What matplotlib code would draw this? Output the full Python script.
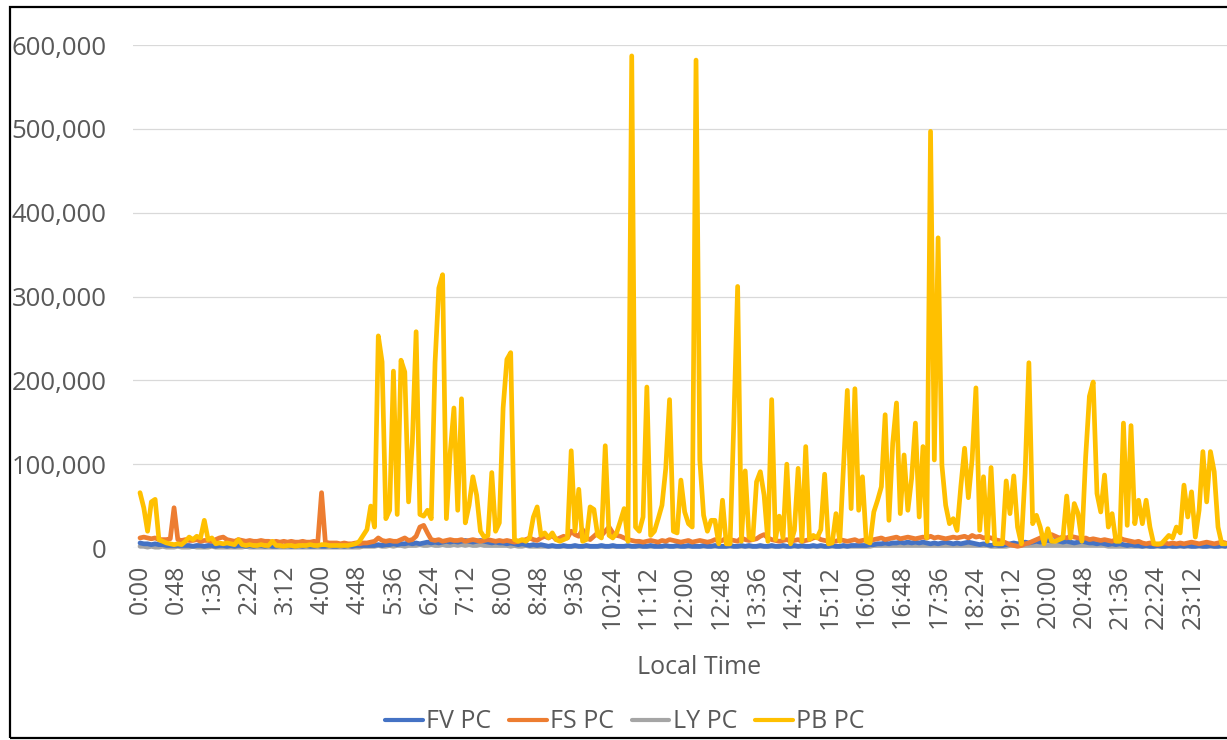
import numpy as np
import matplotlib
matplotlib.use("Agg")
import matplotlib.pyplot as plt
from matplotlib.patches import Rectangle
from matplotlib.ticker import FuncFormatter

# ---------------- data (values in thousands, 5-minute steps) ----------------
series_names = ["FV PC", "FS PC", "LY PC", "PB PC"]
series_colors = ["#4472C4", "#ED7D31", "#A5A5A5", "#FFC000"]

tick_labels = ["0:00", "0:48", "1:36", "2:24", "3:12", "4:00", "4:48", "5:36",
               "6:24", "7:12", "8:00", "8:48", "9:36", "10:24", "11:12", "12:00",
               "12:48", "13:36", "14:24", "15:12", "16:00", "16:48", "17:36",
               "18:24", "19:12", "20:00", "20:48", "21:36", "22:24", "23:12"]
tick_minutes = [0, 48, 96, 144, 192, 240, 288, 336, 384, 432, 480, 528, 576, 624,
                672, 720, 768, 816, 864, 912, 960, 1008, 1056, 1104, 1152, 1200,
                1248, 1296, 1344, 1392]

pb_pc = [
    66, 48, 20, 55, 58, 10, 8, 6, 5, 4, 5, 4,
    8, 13, 10, 14, 12, 33, 10, 12, 5, 6, 5, 6,
    5, 4, 10, 4, 3, 4, 3, 3, 4, 3, 3, 8,
    3, 3, 2, 3, 3, 2, 3, 3, 3, 4, 3, 3,
    4, 4, 3, 3, 3, 3, 3, 3, 4, 5, 8, 15,
    22, 50, 25, 253, 222, 35, 45, 211, 40, 224, 210, 55,
    126, 258, 40, 38, 45, 35, 221, 310, 326, 35, 113, 167,
    45, 178, 30, 51, 85, 63, 20, 13, 15, 90, 20, 30,
    167, 225, 233, 10, 8, 10, 8, 12, 37, 49, 15, 18,
    12, 18, 10, 8, 10, 12, 116, 20, 70, 8, 10, 49,
    46, 15, 12, 122, 15, 12, 18, 32, 47, 8, 587, 25,
    20, 37, 192, 15, 20, 35, 51, 95, 177, 20, 18, 81,
    43, 29, 25, 582, 105, 39, 20, 33, 33, 5, 57, 5,
    5, 151, 312, 8, 92, 13, 10, 79, 91, 63, 8, 177,
    10, 38, 12, 100, 5, 21, 95, 8, 121, 10, 15, 12,
    22, 88, 5, 6, 41, 8, 97, 188, 47, 190, 45, 85,
    8, 6, 43, 57, 73, 159, 33, 125, 173, 41, 111, 45,
    83, 149, 37, 121, 12, 497, 105, 370, 99, 51, 29, 35,
    21, 73, 119, 60, 106, 191, 21, 85, 8, 96, 5, 5,
    5, 80, 41, 86, 25, 5, 89, 221, 29, 39, 25, 5,
    23, 8, 8, 10, 12, 62, 12, 53, 41, 8, 108, 181,
    198, 65, 43, 87, 25, 41, 8, 8, 149, 27, 146, 29,
    57, 29, 57, 25, 5, 5, 5, 10, 15, 12, 25, 18,
    75, 37, 67, 13, 45, 115, 55, 115, 91, 25, 5, 5,
]

fs_pc = [
    12, 13, 12, 11, 12, 10, 10, 10, 11, 48, 10, 9,
    10, 9, 9, 10, 8, 9, 9, 8, 10, 12, 13, 10,
    9, 8, 10, 9, 8, 9, 8, 8, 9, 8, 8, 7,
    8, 7, 8, 7, 8, 7, 7, 8, 7, 7, 8, 7,
    66, 7, 6, 6, 6, 5, 6, 5, 5, 6, 5, 6,
    6, 7, 8, 12, 9, 8, 9, 8, 8, 10, 12, 9,
    10, 14, 25, 27, 18, 10, 9, 10, 8, 9, 10, 9,
    9, 10, 8, 9, 10, 9, 8, 9, 10, 9, 8, 9,
    8, 9, 8, 7, 8, 9, 10, 12, 10, 9, 12, 14,
    12, 15, 10, 12, 14, 12, 20, 16, 14, 22, 12, 10,
    14, 18, 15, 20, 25, 18, 15, 14, 12, 10, 9, 8,
    8, 7, 8, 9, 8, 7, 9, 8, 10, 9, 8, 7,
    8, 9, 7, 8, 9, 8, 7, 8, 10, 8, 9, 12,
    10, 9, 8, 12, 10, 9, 10, 11, 14, 16, 12, 10,
    9, 8, 9, 10, 8, 9, 10, 8, 9, 10, 12, 13,
    10, 9, 8, 9, 8, 10, 9, 8, 9, 10, 8, 9,
    10, 9, 10, 11, 12, 10, 11, 12, 13, 11, 12, 13,
    12, 11, 12, 13, 12, 14, 12, 13, 12, 11, 12, 13,
    12, 13, 14, 12, 15, 13, 14, 12, 13, 12, 10, 9,
    8, 6, 4, 3, 2, 3, 5, 6, 8, 10, 12, 14,
    15, 16, 14, 12, 13, 12, 14, 13, 12, 11, 12, 10,
    11, 10, 9, 10, 9, 8, 10, 12, 10, 9, 8, 7,
    8, 6, 5, 6, 5, 4, 5, 6, 5, 6, 5, 6,
    5, 6, 7, 6, 5, 6, 7, 6, 5, 6, 7, 6,
]

fv_pc = [
    6, 5, 5, 4, 5, 4, 4, 3, 3, 3, 3, 3,
    3, 3, 2, 3, 3, 2, 3, 3, 2, 3, 3, 2,
    3, 2, 3, 3, 2, 3, 2, 3, 3, 2, 3, 2,
    2, 3, 2, 3, 2, 2, 3, 2, 3, 2, 2, 3,
    2, 2, 3, 2, 2, 3, 2, 3, 2, 3, 3, 3,
    3, 3, 3, 4, 3, 4, 4, 5, 4, 5, 5, 6,
    5, 6, 5, 6, 7, 6, 7, 6, 7, 8, 7, 8,
    7, 8, 9, 8, 7, 8, 9, 8, 7, 6, 7, 6,
    6, 5, 6, 5, 4, 5, 4, 3, 4, 3, 4, 3,
    2, 3, 2, 2, 3, 2, 2, 3, 2, 2, 3, 2,
    2, 2, 3, 2, 2, 3, 2, 2, 2, 3, 2, 2,
    3, 2, 2, 3, 2, 2, 2, 3, 2, 2, 3, 2,
    2, 3, 2, 2, 2, 3, 2, 2, 3, 2, 2, 2,
    3, 2, 2, 3, 2, 3, 2, 2, 3, 2, 2, 3,
    2, 2, 3, 2, 2, 3, 2, 3, 2, 2, 3, 2,
    3, 2, 2, 3, 2, 2, 3, 2, 3, 3, 3, 3,
    3, 4, 4, 5, 5, 6, 5, 6, 6, 7, 6, 7,
    6, 7, 6, 7, 6, 5, 6, 5, 6, 7, 6, 5,
    6, 5, 6, 7, 6, 5, 4, 5, 4, 3, 4, 3,
    3, 4, 5, 6, 5, 6, 7, 6, 7, 8, 7, 8,
    9, 8, 9, 8, 7, 8, 7, 6, 7, 8, 7, 6,
    6, 5, 6, 5, 4, 5, 4, 5, 4, 3, 4, 3,
    3, 2, 3, 2, 2, 3, 2, 2, 3, 2, 2, 3,
    2, 3, 2, 2, 3, 2, 2, 3, 2, 2, 3, 2,
]

ly_pc = [
    2, 2, 1, 2, 1, 1, 2, 1, 1, 1, 2, 1,
    1, 1, 2, 1, 1, 1, 1, 2, 1, 1, 1, 1,
    1, 1, 1, 1, 2, 1, 1, 1, 1, 1, 1, 1,
    1, 1, 1, 1, 1, 1, 1, 1, 1, 1, 1, 1,
    1, 1, 1, 1, 1, 1, 1, 1, 1, 1, 1, 2,
    2, 2, 2, 3, 2, 2, 3, 2, 3, 3, 2, 3,
    3, 3, 4, 3, 3, 4, 3, 3, 4, 3, 3, 4,
    3, 4, 3, 4, 3, 3, 4, 3, 3, 3, 3, 3,
    3, 3, 2, 3, 2, 2, 3, 2, 2, 2, 2, 2,
    2, 2, 2, 2, 2, 2, 2, 2, 2, 2, 2, 2,
    2, 2, 2, 2, 2, 2, 2, 2, 2, 2, 2, 2,
    2, 2, 2, 2, 2, 2, 2, 2, 2, 2, 2, 2,
    2, 2, 2, 2, 2, 2, 2, 2, 2, 2, 2, 2,
    2, 2, 2, 2, 2, 2, 2, 2, 2, 2, 2, 2,
    2, 2, 2, 2, 2, 2, 2, 2, 2, 2, 2, 2,
    2, 2, 2, 2, 2, 2, 2, 2, 2, 2, 2, 2,
    2, 2, 3, 3, 3, 3, 3, 3, 3, 3, 3, 3,
    3, 3, 3, 3, 3, 3, 3, 3, 3, 3, 3, 3,
    3, 3, 3, 3, 3, 3, 3, 3, 3, 2, 2, 2,
    2, 2, 3, 3, 3, 3, 3, 3, 3, 3, 3, 3,
    3, 3, 3, 3, 3, 3, 3, 3, 3, 3, 3, 3,
    3, 3, 3, 3, 2, 2, 2, 2, 2, 2, 2, 2,
    2, 2, 2, 2, 2, 2, 2, 2, 2, 2, 2, 2,
    2, 2, 2, 2, 2, 2, 2, 2, 2, 2, 2, 2,
]

step_minutes = 5
# -----------------------------------------------------------------------------

plt.rcParams['font.family'] = ['Open Sans', 'DejaVu Sans']
text_color = "#595959"

W, H = 1227, 740
fig = plt.figure(figsize=(W / 100, H / 100), dpi=100)
ax = fig.add_axes([133 / W, (H - 548) / H, (W - 133) / W, (548 - 45) / H])

minutes = np.arange(len(pb_pc)) * step_minutes
all_series = [fv_pc, fs_pc, ly_pc, pb_pc]
z_orders = [3, 4, 2, 5]
for name, color, vals, z in zip(series_names, series_colors, all_series, z_orders):
    ax.plot(minutes, np.array(vals) * 1000, color=color, lw=3.4, label=name,
            solid_joinstyle='round', solid_capstyle='round', clip_on=False, zorder=z)

x0 = (133 - 140) / 0.7565
x1 = (W - 140) / 0.7565
ax.set_xlim(x0, x1)
ax.set_ylim(0, 600000)
ax.set_yticks(np.arange(0, 600001, 100000))
ax.yaxis.set_major_formatter(FuncFormatter(lambda v, p: f"{int(v):,}"))
ax.grid(axis='y', color="#D9D9D9", lw=0.9)
ax.set_axisbelow(True)
for s in ax.spines.values():
    s.set_visible(False)

ax.set_xticks(tick_minutes)
ax.set_xticklabels(tick_labels, rotation=90)
ax.tick_params(axis='x', length=0, pad=12, labelsize=18, colors=text_color)
ax.tick_params(axis='y', length=0, pad=19, labelsize=18.5, colors=text_color)

fig.text(699 / W, 1 - 668 / H, "Local Time", ha='center', va='center',
         fontsize=18, color=text_color)

handles, labels = ax.get_legend_handles_labels()
leg = fig.legend(handles, labels, loc='center', bbox_to_anchor=(625 / W, 1 - 722 / H),
                 ncol=4, frameon=False, fontsize=18, handlelength=1.5,
                 handletextpad=0.15, columnspacing=0.7, labelcolor=text_color)
for lh in leg.get_lines():
    lh.set_linewidth(3.0)

fig.patches.append(Rectangle((10 / W, 2 / H), 1.2, (H - 9) / H, transform=fig.transFigure,
                             fill=False, edgecolor='black', lw=1.6))

fig.savefig("out.png", dpi=100)
